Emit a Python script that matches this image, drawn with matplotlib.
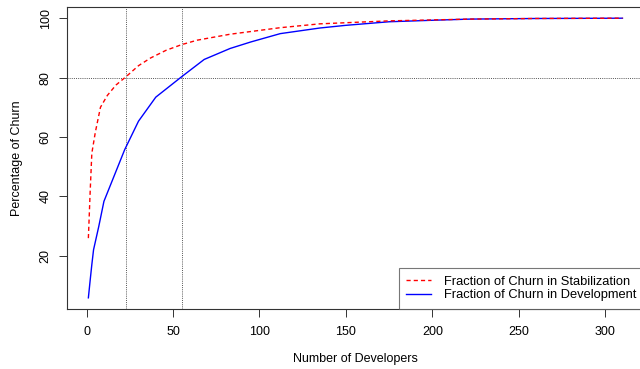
import matplotlib
matplotlib.use("Agg")
import matplotlib.pyplot as plt
import numpy as np

plt.rcParams['font.family'] = ['Liberation Sans', 'DejaVu Sans']

# stabilization churn (red, dashed)
stab_x = [1, 2, 3, 5, 8, 12, 17, 23, 30, 37, 46, 55, 64, 83, 112, 135, 175, 222, 260, 310]
stab_y = [25.9, 41.0, 54.5, 61.5, 70.0, 74.0, 77.5, 80.4, 84.0, 86.6, 89.2, 91.1, 92.6, 94.6, 96.8, 98.1, 99.1, 99.7, 99.9, 100.0]

# development churn (blue, solid)
dev_x = [1, 2, 3, 4, 7, 10, 12, 22, 30, 40, 55, 68, 83, 95, 112, 135, 150, 175, 200, 222, 260, 310]
dev_y = [5.8, 11.5, 17.0, 22.0, 29.8, 38.3, 41.2, 55.7, 65.3, 73.4, 80.3, 86.1, 89.8, 92.0, 94.8, 96.7, 97.6, 98.8, 99.3, 99.7, 99.9, 100.0]

vlines = [23, 55]
hline = 80

fig = plt.figure(figsize=(6.4, 3.69), dpi=100)
ax = fig.add_axes([0.1047, 0.1626, 0.9013, 0.8184])

for v in vlines:
    ax.axvline(v, color='#555555', lw=0.7, ls=(0, (1, 1.2)), zorder=1)
ax.axhline(hline, color='#555555', lw=0.7, ls=(0, (1, 1.2)), zorder=1)

ax.plot(stab_x, stab_y, color='red', lw=1.0, ls=(0, (3, 2.2)),
        label='Fraction of Churn in Stabilization', zorder=3)
ax.plot(dev_x, dev_y, color='blue', lw=1.0,
        label='Fraction of Churn in Development', zorder=2)

xmin, xmax = 1, 310
ymin, ymax = min(dev_y), 100
ax.set_xlim(xmin - 0.04 * (xmax - xmin), xmax + 0.04 * (xmax - xmin))
ax.set_ylim(ymin - 0.04 * (ymax - ymin), ymax + 0.04 * (ymax - ymin))

ax.set_xticks([0, 50, 100, 150, 200, 250, 300])
ax.set_yticks([20, 40, 60, 80, 100])
for lab in ax.get_yticklabels():
    lab.set_rotation(90)
    lab.set_va('center')
ax.tick_params(axis='both', labelsize=9, length=6, width=0.7, color='#333333', pad=4)
ax.tick_params(axis='x', pad=6)
ax.tick_params(axis='y', pad=5)

for s in ax.spines.values():
    s.set_linewidth(0.8)
    s.set_color('#333333')

ax.set_xlabel('Number of Developers', fontsize=9, labelpad=11)
ax.set_ylabel('Percentage of Churn', fontsize=9, labelpad=12)

leg = ax.legend(loc='lower right', fontsize=9.3, frameon=True, fancybox=False,
                edgecolor='#555555', borderaxespad=0, handlelength=1.95,
                handletextpad=0.95, labelspacing=0.1, borderpad=0.6)
leg.get_frame().set_linewidth(0.8)

fig.savefig('out.png', dpi=100)
